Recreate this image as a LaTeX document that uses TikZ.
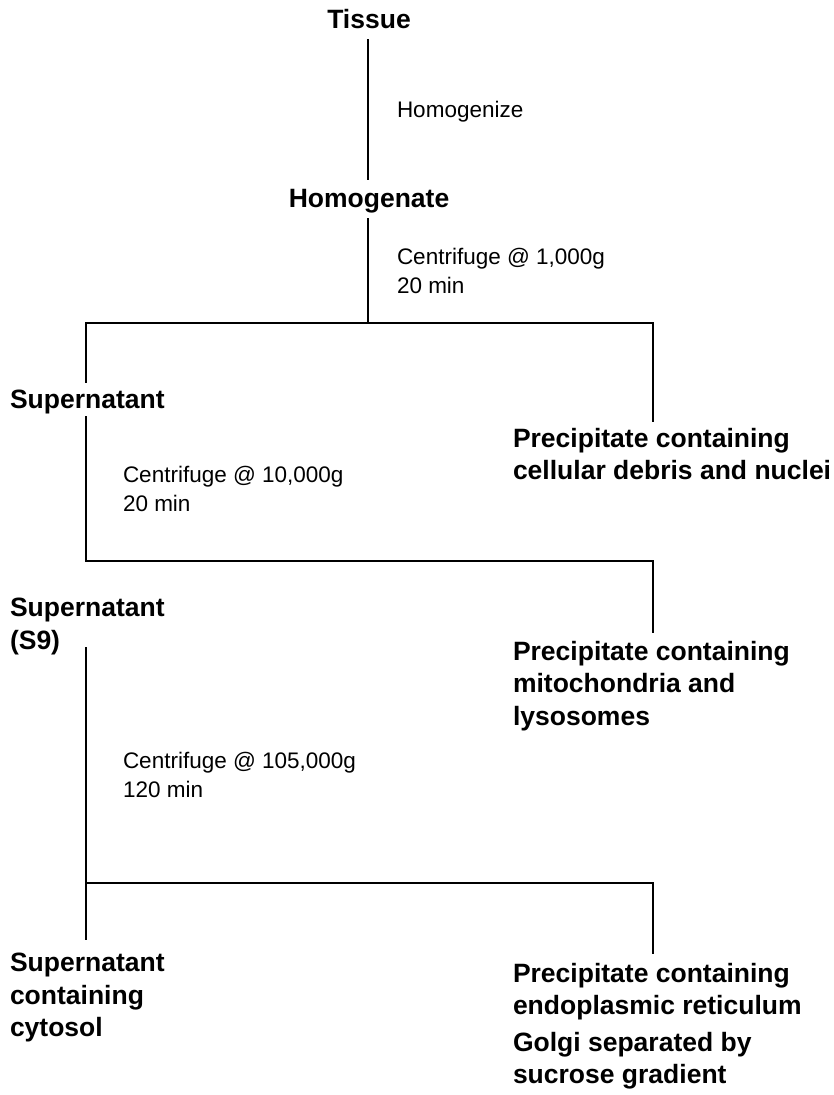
\documentclass[tikz,border=0pt]{standalone}
\usepackage{fontspec}
\setmainfont{Liberation Sans}
\begin{document}
\begin{tikzpicture}[x=1pt,y=-1pt,
  stage/.style={font=\bfseries\fontsize{26.5}{32.5}\selectfont, inner sep=0pt, outer sep=0pt, align=left},
  procnote/.style={font=\fontsize{22.5}{29}\selectfont, inner sep=0pt, outer sep=0pt, align=left},
  link/.style={line width=2.2pt, line cap=rect}]
\useasboundingbox (0,0) rectangle (834,1095);

% fractions and procedures
\node[stage, anchor=base] (tissue) at (369,28) {Tissue};
\node[procnote, anchor=base west] (homogenize) at (397,117) {Homogenize};
\node[stage, anchor=base] (homogenate) at (369,207) {Homogenate};
\node[procnote, anchor=north west] (spin1) at (397,248) {Centrifuge @ 1,000g\\20 min};

\node[stage, anchor=base west] (sup1) at (10,408) {Supernatant};
\node[stage, anchor=north west] (prec1) at (513,428) {Precipitate containing\\cellular debris and nuclei};
\node[procnote, anchor=north west] (spin2) at (123,466) {Centrifuge @ 10,000g\\20 min};

\node[stage, anchor=north west] (sup2) at (10,598) {Supernatant\\(S9)};
\node[stage, anchor=north west] (prec2) at (513,641) {Precipitate containing\\mitochondria and\\lysosomes};
\node[procnote, anchor=north west] (spin3) at (123,752) {Centrifuge @ 105,000g\\120 min};

\node[stage, anchor=north west] (sup3) at (10,953) {Supernatant\\containing\\cytosol};
\node[stage, anchor=north west] (prec3) at (513,963) {Precipitate containing\\endoplasmic reticulum\\[4pt]Golgi separated by\\sucrose gradient};

% branch points
\coordinate (j1) at (368,323);
\coordinate (l1) at (86,323);
\coordinate (r1) at (653,323);
\coordinate (l2) at (86,561);
\coordinate (r2) at (653,561);
\coordinate (l3) at (86,883);
\coordinate (r3) at (653,883);

% connectors
\draw[link] ([yshift=-12pt]tissue.south -| j1) -- ([yshift=10pt]homogenate.north -| j1);
\draw[link] ([yshift=-6pt]homogenate.south -| j1) -- (j1);
\draw[link] ([yshift=8pt]sup1.north -| l1) -- (l1) -- (r1) -- ([yshift=7pt]prec1.north -| r1);
\draw[link] ([yshift=-4pt]sup1.south -| l1) -- (l2) -- (r2) -- ([yshift=9pt]prec2.north -| r2);
\draw[link] ([yshift=-50pt]sup2.north -| l3) -- ([yshift=14pt]sup3.north -| l3);
\draw[link] (l3) -- (r3) -- ([yshift=10pt]prec3.north -| r3);
\end{tikzpicture}
\end{document}
